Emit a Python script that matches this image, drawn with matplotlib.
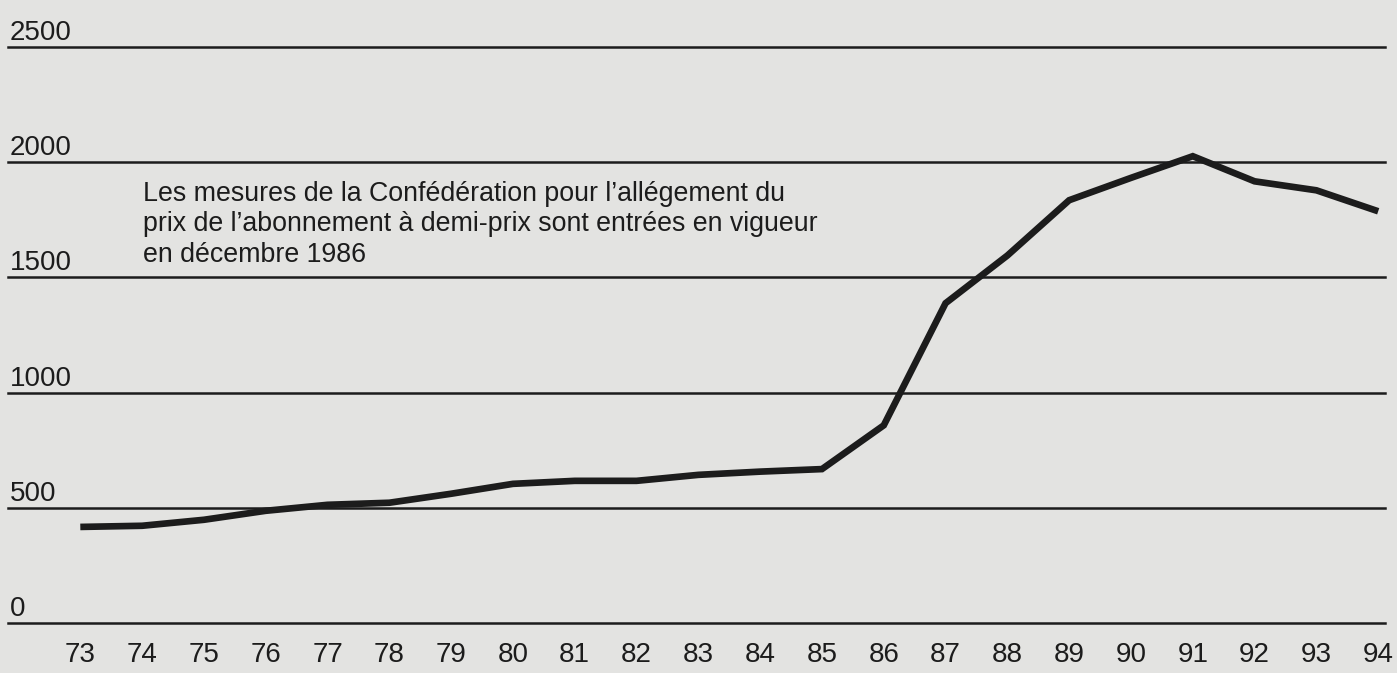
import matplotlib.pyplot as plt
from matplotlib import font_manager

# years (two-digit labels) and values
years = list(range(73, 95))
year_labels = [str(y) for y in years]
values = [417, 422, 448, 487, 513, 522, 561, 604, 617, 617, 643, 657, 668,
          858, 1388, 1595, 1835, 1932, 2026, 1917, 1878, 1787]
y_ticks = [0, 500, 1000, 1500, 2000, 2500]
note = ("Les mesures de la Confédération pour l’allégement du\n"
        "prix de l’abonnement à demi-prix sont entrées en vigueur\n"
        "en décembre 1986")

names = {f.name for f in font_manager.fontManager.ttflist}
family = ["Liberation Sans Narrow", "DejaVu Sans"] if "Liberation Sans Narrow" in names else ["Liberation Sans", "DejaVu Sans"]
plt.rcParams["font.family"] = family

bg = "#e3e3e1"
ink = "#1c1c1c"

fig = plt.figure(figsize=(13.97, 6.73), dpi=100, facecolor=bg)
ax = fig.add_axes([8 / 1397, 50 / 673, 1377 / 1397, 576 / 673])
ax.set_facecolor(bg)
ax.set_xlim(71.83, 94.11)
ax.set_ylim(0, 2500)

# horizontal rules with labels sitting above them
for t in y_ticks:
    ax.axhline(t, color=ink, lw=1.8, clip_on=False, zorder=1)
    ax.annotate(str(t), xy=(0, t), xycoords=("axes fraction", "data"),
                xytext=(1, 5), textcoords="offset points",
                ha="left", va="baseline", fontsize=20, color=ink)

ax.plot(years, values, color=ink, lw=4.8, solid_joinstyle="miter",
        solid_capstyle="butt", zorder=3)

ax.text(0.098, 0.768, note, transform=ax.transAxes, ha="left", va="top",
        fontsize=19.3, color=ink, linespacing=1.24)

ax.set_xticks(years)
ax.set_xticklabels(year_labels, fontsize=20, color=ink)
ax.tick_params(axis="x", length=0, pad=14)
ax.set_yticks([])
for s in ax.spines.values():
    s.set_visible(False)

fig.savefig("out.png", dpi=100, facecolor=bg)
